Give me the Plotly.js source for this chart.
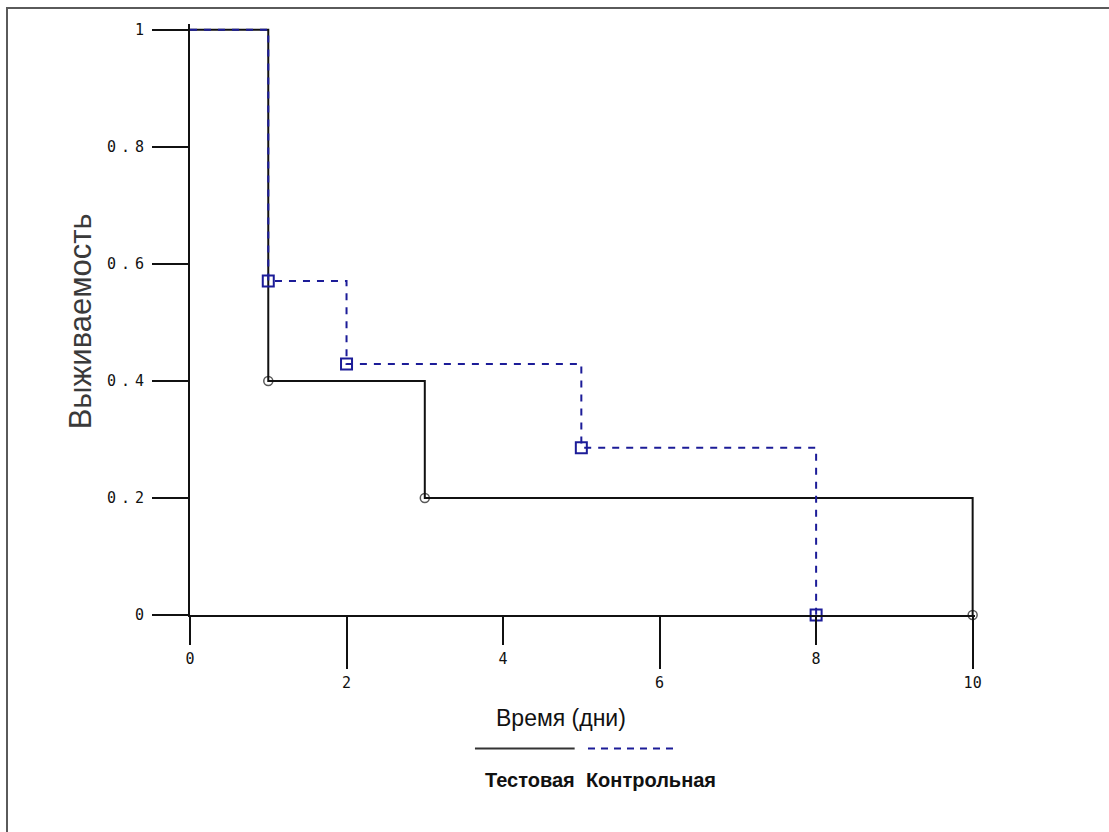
<!DOCTYPE html>
<html>
<head>
<meta charset="utf-8">
<script src="https://cdn.plot.ly/plotly-3.0.1.min.js"></script>
<style>
  html, body { margin: 0; padding: 0; background: #fff; }
  #wrap { position: relative; width: 1109px; height: 832px; }
  #chart { position: absolute; left: 0; top: 0; width: 1109px; height: 832px; }
  #frame { position: absolute; left: 6px; top: 7px; width: 1103px; height: 825px;
           border-left: 2px solid #5a5a5a; border-top: 2px solid #5a5a5a; pointer-events: none; }
  #chart g.ytick text { letter-spacing: 5px; }
</style>
</head>
<body>
<div id="wrap"><div id="chart"></div><div id="frame"></div></div>
<script>
// Data
const testTime = [0, 1, 3, 10];
const testSurv = [1, 0.4, 0.2, 0];
const controlTime = [0, 1, 2, 5, 8];
const controlSurv = [1, 0.571, 0.429, 0.286, 0];
const yTicks = [0, 0.2, 0.4, 0.6, 0.8, 1];
const yTickLabels = ['0', '0.2', '0.4', '0.6', '0.8', '1'];
const xTicksA = [0, 4, 8];
const xTicksB = [2, 6, 10];
const xTitle = 'Время (дни)';
const yTitle = 'Выживаемость';
const seriesNames = ['Тестовая', 'Контрольная'];

const blue = '#1c1c98';
const tickFont = {family: 'DejaVu Sans Mono', size: 15, color: '#111'};

const test = {
  x: testTime, y: testSurv, xaxis: 'x', yaxis: 'y',
  type: 'scatter', mode: 'lines+markers', name: seriesNames[0],
  line: {shape: 'hv', color: '#111', width: 2},
  marker: {symbol: 'circle-open', size: testTime.map((t, i) => i === 0 ? 0 : 9),
           color: '#111', line: {width: 1.5, color: '#111'}},
  cliponaxis: false, hoverinfo: 'x+y'
};
const control = {
  x: controlTime, y: controlSurv, xaxis: 'x2', yaxis: 'y',
  type: 'scatter', mode: 'lines+markers', name: seriesNames[1],
  line: {shape: 'hv', color: blue, width: 2, dash: '7px,7px'},
  marker: {symbol: 'square-open', size: controlTime.map((t, i) => i === 0 ? 0 : 11),
           color: blue, opacity: 1, line: {width: 2, color: blue}},
  cliponaxis: false, hoverinfo: 'x+y'
};

const xr = [0, 10.03];
const layout = {
  width: 1109, height: 832,
  margin: {l: 190, r: 134, t: 24, b: 217},
  paper_bgcolor: 'rgba(0,0,0,0)', plot_bgcolor: '#fff',
  showlegend: false,
  font: {family: 'Liberation Sans, Arial, sans-serif', color: '#222'},
  xaxis: {
    range: xr, tickmode: 'array', tickvals: xTicksA, ticktext: xTicksA.map(String),
    ticks: 'outside', ticklen: 28, tickwidth: 2, tickcolor: '#111',
    showline: true, linecolor: '#111', linewidth: 2,
    showgrid: false, zeroline: false, tickfont: tickFont, ticklabelstandoff: 1,
    fixedrange: true
  },
  xaxis2: {
    range: xr, overlaying: 'x', anchor: 'y', side: 'bottom',
    tickmode: 'array', tickvals: xTicksB, ticktext: xTicksB.map(String),
    ticks: 'outside', ticklen: 53, tickwidth: 2, tickcolor: '#111',
    showline: false, showgrid: false, zeroline: false, tickfont: tickFont, ticklabelstandoff: 1,
    fixedrange: true
  },
  yaxis: {
    range: [0, 1.01], tickmode: 'array', tickvals: yTicks, ticktext: yTickLabels,
    ticks: 'outside', ticklen: 36, tickwidth: 2, tickcolor: '#111',
    showline: true, linecolor: '#111', linewidth: 2,
    showgrid: false, zeroline: false, tickfont: tickFont, ticklabelstandoff: 0,
    fixedrange: true
  },
  annotations: [
    {text: yTitle, xref: 'paper', yref: 'paper', x: -0.14, y: 0.497, textangle: -90,
     showarrow: false, font: {size: 31, color: '#3a3a3a'}, xanchor: 'center', yanchor: 'middle'},
    {text: xTitle, xref: 'paper', yref: 'paper', x: 0.473, y: -0.174,
     showarrow: false, font: {size: 23, color: '#111'}, xanchor: 'center', yanchor: 'middle'},
    {text: '<b>' + seriesNames[0] + '</b>  <b>' + seriesNames[1] + '</b>', xref: 'paper', yref: 'paper',
     x: 0.5235, y: -0.279, showarrow: false, font: {size: 20, color: '#111'},
     xanchor: 'center', yanchor: 'middle'}
  ],
  shapes: [
    {type: 'line', xref: 'paper', yref: 'paper', x0: 0.363, x1: 0.490, y0: -0.226, y1: -0.226,
     line: {color: '#333', width: 2}},
    {type: 'line', xref: 'paper', yref: 'paper', x0: 0.507, x1: 0.622, y0: -0.226, y1: -0.226,
     line: {color: blue, width: 2, dash: '7px,6px'}}
  ]
};

Plotly.newPlot('chart', [test, control], layout, {displayModeBar: false, staticPlot: true});
</script>
</body>
</html>
